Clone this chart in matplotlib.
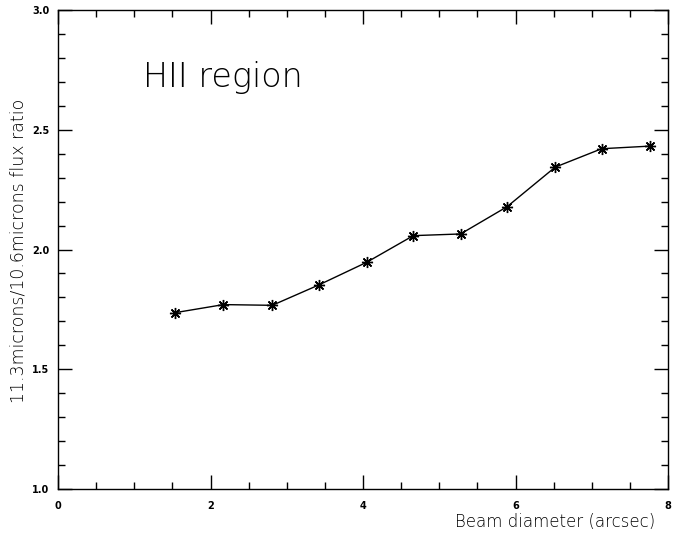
import matplotlib
matplotlib.use("Agg")
import matplotlib.pyplot as plt
from matplotlib.ticker import MultipleLocator

# beam diameter (arcsec) vs 11.3/10.6 micron flux ratio
beam = [1.53, 2.17, 2.81, 3.42, 4.05, 4.66, 5.28, 5.89, 6.52, 7.13, 7.77]
ratio = [1.736, 1.770, 1.767, 1.852, 1.947, 2.058, 2.065, 2.179, 2.344, 2.421, 2.432]

xticks = [0, 2, 4, 6, 8]
yticks = [1.0, 1.5, 2.0, 2.5, 3.0]

fig = plt.figure(figsize=(6.73, 5.33), dpi=100)
ax = fig.add_axes([0.0862, 0.0826, 0.9064, 0.8985])

ax.plot(beam, ratio, color='black', linewidth=1.0,
        marker=(8, 2, 0), markersize=8, markeredgewidth=1.0)

ax.set_xlim(0, 8)
ax.set_ylim(1.0, 3.0)
ax.set_xticks(xticks)
ax.set_yticks(yticks)
ax.set_xticklabels([str(v) for v in xticks])
ax.set_yticklabels(['%.1f' % v for v in yticks])
ax.xaxis.set_minor_locator(MultipleLocator(0.5))
ax.yaxis.set_minor_locator(MultipleLocator(0.1))

ax.tick_params(which='both', direction='in', top=True, right=True,
               labelsize=7, width=1.0, colors='black')
ax.tick_params(which='major', length=10)
ax.tick_params(which='minor', length=5)
ax.tick_params(axis='x', pad=9)
ax.tick_params(axis='y', pad=6)
for lab in ax.get_xticklabels() + ax.get_yticklabels():
    lab.set_fontweight('bold')
for sp in ax.spines.values():
    sp.set_linewidth(1.0)

ax.text(1.11, 2.68, 'HII region', ha='left', va='baseline',
        fontsize=24, fontweight='light', color='black')
fig.text(0.973, 0.003, 'Beam diameter (arcsec)', ha='right', va='bottom',
         fontsize=12, fontweight='light')
fig.text(0.027, 0.53, '11.3microns/10.6microns flux ratio', rotation=90,
         ha='center', va='center', fontsize=12.5, fontweight='light')

fig.savefig('out.png', dpi=100)
